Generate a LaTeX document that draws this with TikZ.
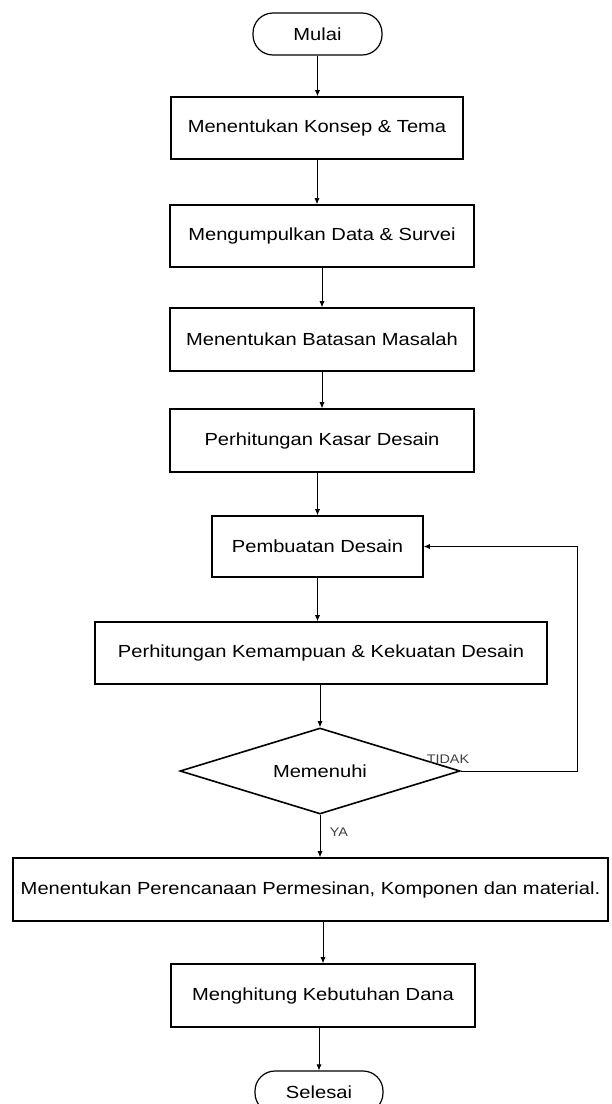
\documentclass[tikz,border=0pt]{standalone}
\usepackage{fontspec}
\setmainfont{Liberation Sans}[FakeStretch=1.15]
\usetikzlibrary{shapes.geometric,arrows.meta}
\begin{document}
\begin{tikzpicture}[x=1pt,y=-1pt,
  every node/.style={font=\fontsize{17.5}{20}\selectfont},
  procbox/.style={draw,line width=1.6pt,rectangle,inner sep=0pt,anchor=center},
  termbox/.style={draw,line width=1.2pt,rectangle,rounded corners=20pt,inner sep=0pt,anchor=center},
  decbox/.style={draw,line width=1.6pt,diamond,aspect=3.26,inner sep=0pt,anchor=center},
  flow/.style={line width=0.7pt,-{Latex[length=6pt,width=5pt]}},
  lbl/.style={font=\fontsize{12.5}{14}\selectfont,text=black!75,inner sep=0pt}]
\useasboundingbox (0,0) rectangle (611,1104);
\clip (0,0) rectangle (611,1104);
\fill[white] (0,0) rectangle (611,1104);

\node[termbox,minimum width=129pt,minimum height=42pt] (mulai) at (317.5,34) {Mulai};
\node[procbox,minimum width=292pt,minimum height=62pt] (b1) at (317,128) {Menentukan Konsep \& Tema};
\node[procbox,minimum width=304pt,minimum height=62pt] (b2) at (322,236) {Mengumpulkan Data \& Survei};
\node[procbox,minimum width=304pt,minimum height=63pt] (b3) at (322,339.5) {Menentukan Batasan Masalah};
\node[procbox,minimum width=304pt,minimum height=63pt] (b4) at (322,440.5) {Perhitungan Kasar Desain};
\node[procbox,minimum width=211pt,minimum height=61pt] (b5) at (317.5,546.5) {Pembuatan Desain};
\node[procbox,minimum width=452pt,minimum height=62pt] (b6) at (321,653) {Perhitungan Kemampuan \& Kekuatan Desain};
\node[decbox,minimum width=280pt,minimum height=86pt] (d) at (320,771) {Memenuhi};
\node[procbox,minimum width=595pt,minimum height=63pt] (b7) at (310.5,889.5) {Menentukan Perencanaan Permesinan, Komponen dan material.};
\node[procbox,minimum width=304pt,minimum height=63pt] (b8) at (323,995.5) {Menghitung Kebutuhan Dana};
\node[termbox,minimum width=128pt,minimum height=42pt] (selesai) at (319,1092) {Selesai};

\coordinate (fbr) at (577,771);
\coordinate (fbt) at (577,546.5);

\draw[flow] (mulai.south) -- (mulai.south |- b1.north);
\draw[flow] (b1.south) -- (b1.south |- b2.north);
\draw[flow] (b2.south) -- (b2.south |- b3.north);
\draw[flow] (b3.south) -- (b3.south |- b4.north);
\draw[flow] (b5.north |- b4.south) -- (b5.north);
\draw[flow] (b5.south) -- (b5.south |- b6.north);
\draw[flow] (d.north |- b6.south) -- (d.north);
\draw[flow] (d.south) -- (d.south |- b7.north);
\draw[flow] (b8.north |- b7.south) -- (b8.north);
\draw[flow] (selesai.north |- b8.south) -- (selesai.north);
\draw[flow] (d.east) -- (fbr) -- (fbt) -- (b5.east);

\node[lbl] (tidak) at (448,759) {TIDAK};
\node[lbl] (ya) at (339,832) {YA};
\end{tikzpicture}
\end{document}
